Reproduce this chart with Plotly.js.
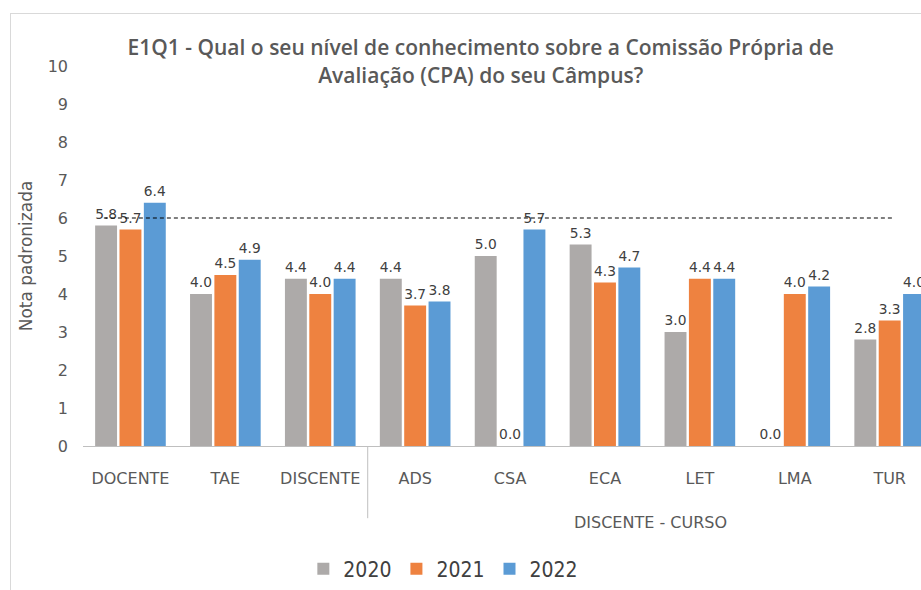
<!DOCTYPE html>
<html><head><meta charset="utf-8">
<script src="https://cdn.plot.ly/plotly-3.0.1.min.js"></script>
<style>
html,body{margin:0;padding:0;background:#fff;}
#wrap{position:relative;width:921px;height:590px;}
#frame{position:absolute;left:10px;top:13px;width:920px;height:600px;border-left:1px solid #D9D9D9;border-top:1px solid #D9D9D9;pointer-events:none;}
#chart{position:absolute;left:0;top:0;width:921px;height:590px;}
</style></head>
<body><div id="wrap"><div id="chart"></div><div id="frame"></div></div>
<script>
const categories = ["DOCENTE","TAE","DISCENTE","ADS","CSA","ECA","LET","LMA","TUR"];
const years = ["2020","2021","2022"];
const v2020 = [5.8, 4.0, 4.4, 4.4, 5.0, 5.3, 3.0, 0.0, 2.8];
const v2021 = [5.7, 4.5, 4.0, 3.7, 0.0, 4.3, 4.4, 4.0, 3.3];
const v2022 = [6.4, 4.9, 4.4, 3.8, 5.7, 4.7, 4.4, 4.2, 4.0];
const target = 6;
const groupLabel = "DISCENTE - CURSO";
const yTicks = [0,1,2,3,4,5,6,7,8,9,10];

const colors = ["#ADAAA9", "#EE8240", "#5B9BD5"];
const series = [v2020, v2021, v2022];
const labelFont = {family: "DejaVu Sans, Verdana, sans-serif", size: 15, color: "#404040"};
const axisFont = {family: "DejaVu Sans, sans-serif", size: 16, color: "#595959"};

const traces = series.map((vals, i) => ({
  type: "bar",
  name: years[i],
  x: categories,
  y: vals,
  marker: {color: colors[i]},
  text: vals.map(v => v.toFixed(1)),
  textposition: "outside",
  textfont: labelFont,
  cliponaxis: false,
  hoverinfo: "x+y+name"
}));

const layout = {
  width: 921, height: 590,
  margin: {l: 83, r: 0, t: 66, b: 138},
  paper_bgcolor: "rgba(0,0,0,0)",
  plot_bgcolor: "rgba(0,0,0,0)",
  barmode: "group",
  bargap: 0.23,
  bargroupgap: 0.1,
  title: {
    text: "E1Q1 - Qual o seu nível de conhecimento sobre a Comissão Própria de<br>Avaliação (CPA) do seu Câmpus?",
    font: {family: "Open Sans, sans-serif", size: 21, color: "#595959", weight: 600},
    x: 0.522, xanchor: "center", yref: "container", y: 0.906, yanchor: "top"
  },
  xaxis: {
    type: "category",
    range: [-0.5, 8.33],
    showline: true, linecolor: "#BFBFBF", linewidth: 1,
    ticks: "", showgrid: false,
    tickfont: axisFont,
    ticklabelstandoff: 18
  },
  yaxis: {
    range: [0, 10],
    tickvals: yTicks,
    showgrid: false, zeroline: false, showline: false,
    ticks: "",
    tickfont: axisFont,
    ticklabelstandoff: 14,
    title: {text: "Nota padronizada", font: {family: "DejaVu Sans, sans-serif", size: 17, color: "#595959"}, standoff: 10}
  },
  showlegend: true,
  legend: {
    orientation: "h", x: 0.43, xanchor: "center", y: -0.27, yanchor: "top",
    font: {family: "DejaVu Sans Condensed, DejaVu Sans, sans-serif", size: 21, color: "#404040"},
    itemwidth: 30
  },
  shapes: [
    {type: "line", xref: "x", yref: "y", x0: -0.28, x1: 8.05, y0: target, y1: target,
     line: {color: "#000000", width: 1.2, dash: "4px,3px"}},
    {type: "line", xref: "x", yref: "paper", x0: 2.5, x1: 2.5, y0: 0, y1: -0.19,
     line: {color: "#BFBFBF", width: 1}}
  ],
  annotations: [
    {text: groupLabel, xref: "x", yref: "paper", x: 5.48, y: -0.2, yanchor: "middle",
     showarrow: false, font: axisFont}
  ]
};

Plotly.newPlot("chart", traces, layout, {displayModeBar: false, staticPlot: true});
</script></body></html>
